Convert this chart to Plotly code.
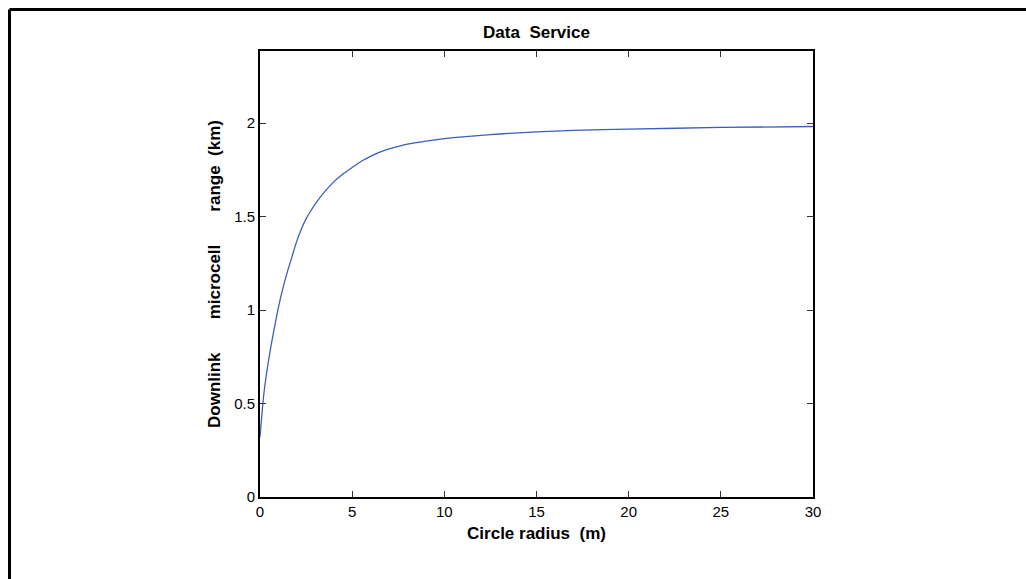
import plotly.graph_objects as go

# Circle radius (m) and the resulting downlink microcell range (km)
radius_m = [0, 0.2, 0.4, 0.6, 0.8, 1.0, 1.25, 1.5, 1.75, 2.0, 2.25, 2.5, 2.75,
            3.0, 3.5, 4.0, 4.5, 5.0, 5.5, 6.0, 6.5, 7.0, 7.5, 8.0, 9.0, 10,
            11, 12, 13, 14, 15, 17, 20, 25, 30]
range_km = [0.32, 0.545, 0.69, 0.81, 0.915, 1.015, 1.12, 1.21, 1.29, 1.37,
            1.435, 1.488, 1.53, 1.568, 1.632, 1.686, 1.728, 1.763, 1.796, 1.822,
            1.845, 1.863, 1.876, 1.888, 1.904, 1.917, 1.927, 1.935, 1.942, 1.948,
            1.953, 1.961, 1.968, 1.977, 1.982]

x_ticks = [0, 5, 10, 15, 20, 25, 30]
y_ticks = [0, 0.5, 1, 1.5, 2]
y_tick_text = ["0", "0.5", "1", "1.5", "2"]

FONT = "Liberation Sans, Arial, Helvetica, sans-serif"
NB = "\u00a0"

fig = go.Figure()
fig.add_trace(go.Scatter(
    x=radius_m, y=range_km, mode="lines",
    line=dict(color="#3a5ec0", width=1.3, shape="spline", smoothing=0.6),
    showlegend=False,
))

axis_common = dict(
    showgrid=False, zeroline=False,
    showline=True, linecolor="black", linewidth=2,
    mirror="ticks", ticks="inside", ticklen=6, tickwidth=1, tickcolor="#333333",
    tickfont=dict(family=FONT, size=15, color="black"),
)

fig.update_layout(
    width=1026, height=579,
    margin=dict(l=260, r=213, t=51, b=82),
    paper_bgcolor="white", plot_bgcolor="white",
    title=dict(
        text="<b>Data" + NB * 2 + "Service</b>",
        font=dict(family=FONT, size=17, color="black"),
        x=0.5, xref="paper", xanchor="center",
        y=1.0, yref="paper", yanchor="bottom", pad=dict(b=13),
    ),
    xaxis=dict(
        range=[0, 30], tickvals=x_ticks,
        title=dict(text="<b>Circle radius" + NB * 2 + "(m)</b>",
                   font=dict(family=FONT, size=17, color="black"), standoff=8),
        **axis_common,
    ),
    yaxis=dict(
        range=[0, 2.386], tickvals=y_ticks, ticktext=y_tick_text,
        title=dict(text="<b>Downlink" + NB * 7 + "microcell" + NB * 7 + "range" + NB * 2 + "(km)</b>",
                   font=dict(family=FONT, size=17, color="black"), standoff=9),
        **axis_common,
    ),
)

# Outer frame edges (top and left) around the figure
fx = (9.5 - 260) / 553
fy = 1 + (51 - 9.5) / 446
frame = dict(type="line", xref="paper", yref="paper",
             line=dict(color="black", width=3), layer="above")
fig.add_shape(x0=fx, x1=fx, y0=fy, y1=-0.3, **frame)
fig.add_shape(x0=fx, x1=1.5, y0=fy, y1=fy, **frame)

fig.write_html("out.html")
